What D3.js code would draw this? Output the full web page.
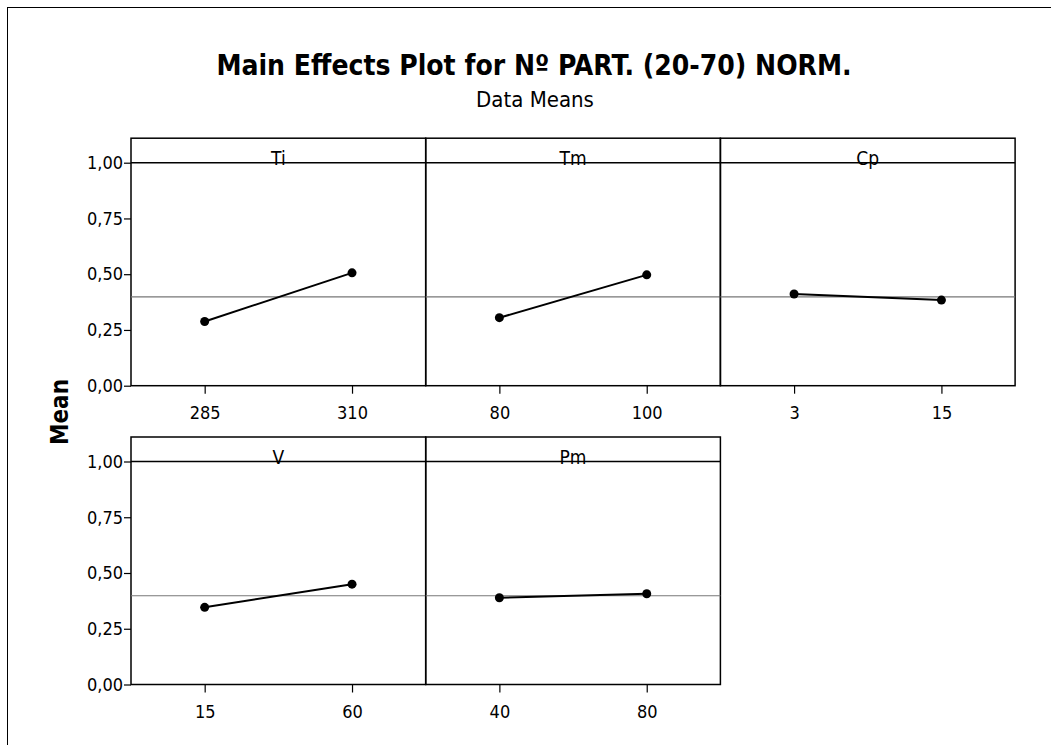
<!DOCTYPE html>
<html>
<head>
<meta charset="utf-8">
<script src="https://cdn.jsdelivr.net/npm/d3@7"></script>
<style>
    body { margin: 0; background: #fff; }
    svg { display: block; font-family: "DejaVu Sans Condensed", "DejaVu Sans", sans-serif; }
    .axis text { font-family: "DejaVu Sans Condensed", "DejaVu Sans", sans-serif; font-size: 18px; fill: #000; }
    .axis line { stroke: #000; stroke-width: 1.2; }
    .axis .domain { display: none; }
</style>
</head>
<body>
<div id="chart"></div>
<script>
const factors = ['Ti', 'Tm', 'Cp', 'V', 'Pm'];
const levels = [['285', '310'], ['80', '100'], ['3', '15'], ['15', '60'], ['40', '80']];
const means = [[0.288, 0.506], [0.305, 0.497], [0.411, 0.384], [0.346, 0.450], [0.389, 0.407]];
const grandMean = 0.398;
const yTicks = [0, 0.25, 0.5, 0.75, 1];

const width = 1051, height = 745;
const panel = { left: 131, width: 294.7, strip: 24.5, height: 223 };
const rowTops = [162.7, 461.5]; // top of plotting area (y = 1,00) per row

const svg = d3.select('#chart').append('svg')
    .attr('width', width)
    .attr('height', height);

// outer frame (right / bottom edges fall outside the picture)
svg.append('rect')
    .attr('x', 7.5).attr('y', 7.5)
    .attr('width', 1100).attr('height', 800)
    .attr('fill', 'none').attr('stroke', '#000').attr('stroke-width', 1);

svg.append('text')
    .attr('x', 534).attr('y', 75)
    .attr('text-anchor', 'middle')
    .style('font-weight', 'bold')
    .style('font-size', '28px')
    .text('Main Effects Plot for Nº PART. (20-70) NORM.');

svg.append('text')
    .attr('x', 535).attr('y', 106.5)
    .attr('text-anchor', 'middle')
    .style('font-size', '22px')
    .text('Data Means');

svg.append('text')
    .attr('transform', 'translate(68,412) rotate(-90)')
    .attr('text-anchor', 'middle')
    .style('font-weight', 'bold')
    .style('font-size', '24px')
    .text('Mean');

const fmt = d => d3.format('.2f')(d).replace('.', ',');

factors.forEach((f, i) => {
    const row = Math.floor(i / 3), col = i % 3;
    const x0 = panel.left + col * panel.width;
    const y0 = rowTops[row];

    const g = svg.append('g').attr('transform', `translate(${x0},${y0})`);

    const x = d3.scalePoint()
        .domain(levels[i])
        .range([0, panel.width])
        .padding(0.5);
    const y = d3.scaleLinear()
        .domain([0, 1])
        .range([panel.height, 0]);

    // strip + frame
    g.append('rect')
        .attr('x', 0).attr('y', -panel.strip)
        .attr('width', panel.width).attr('height', panel.height + panel.strip)
        .attr('fill', 'none').attr('stroke', '#000').attr('stroke-width', 1.5);
    g.append('line')
        .attr('x1', 0).attr('x2', panel.width)
        .attr('y1', 0).attr('y2', 0)
        .attr('stroke', '#000').attr('stroke-width', 1.5);
    g.append('text')
        .attr('x', panel.width / 2).attr('y', 2)
        .attr('text-anchor', 'middle')
        .style('font-size', '19px')
        .text(f);

    // grand mean reference
    g.append('line')
        .attr('x1', 0).attr('x2', panel.width)
        .attr('y1', y(grandMean)).attr('y2', y(grandMean))
        .attr('stroke', '#777').attr('stroke-width', 1.2);

    g.append('g')
        .attr('class', 'axis')
        .attr('transform', `translate(0,${panel.height})`)
        .call(d3.axisBottom(x).tickSize(8).tickPadding(13));

    if (col === 0) {
        g.append('g')
            .attr('class', 'axis')
            .call(d3.axisLeft(y).tickValues(yTicks).tickFormat(fmt).tickSize(7).tickPadding(1));
    }

    const pts = levels[i].map((l, j) => ({ l, v: means[i][j] }));

    g.append('path')
        .datum(pts)
        .attr('fill', 'none')
        .attr('stroke', '#000')
        .attr('stroke-width', 2)
        .attr('d', d3.line().x(d => x(d.l)).y(d => y(d.v)));

    g.selectAll('circle')
        .data(pts)
        .join('circle')
        .attr('cx', d => x(d.l))
        .attr('cy', d => y(d.v))
        .attr('r', 4.5)
        .attr('fill', '#000');
});
</script>
</body>
</html>
